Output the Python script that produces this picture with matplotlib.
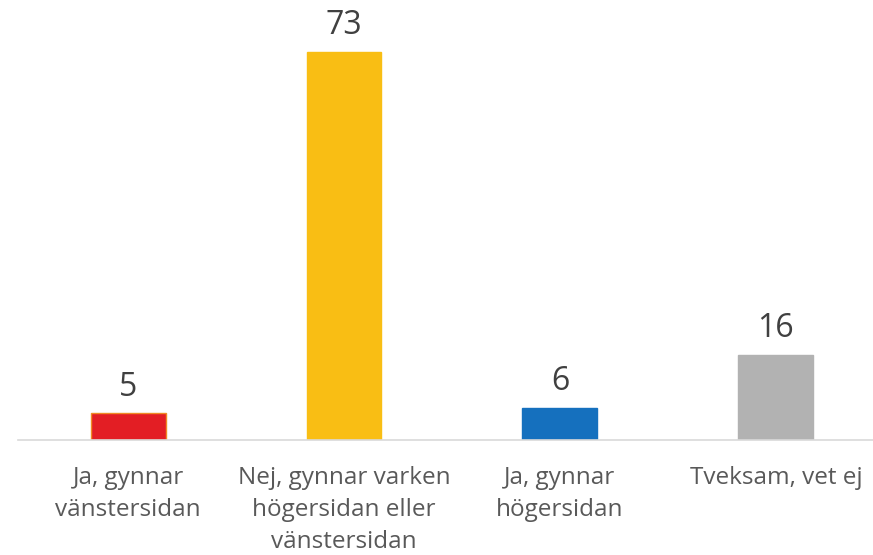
import matplotlib.pyplot as plt

# Chart data
categories = ["Ja, gynnar\nvänstersidan",
              "Nej, gynnar varken\nhögersidan eller\nvänstersidan",
              "Ja, gynnar\nhögersidan",
              "Tveksam, vet ej"]
values = [5, 73, 6, 16]
colors = ["#E31E24", "#F9BE14", "#1570BE", "#B2B2B2"]
edges = ["#F08A24", "#F9BE14", "#1570BE", "#B2B2B2"]

plt.rcParams['font.family'] = ['Open Sans', 'DejaVu Sans']

fig = plt.figure(figsize=(8.73, 5.55), dpi=100)
ax = fig.add_axes([18 / 873, 115 / 555, 1 - 18 / 873, 0.766])

x = range(len(values))
bars = ax.bar(x, values, width=0.347, color=colors, edgecolor=edges, linewidth=1.0, zorder=2)

# value labels above bars
for xi, v in zip(x, values):
    ax.annotate(str(v), (xi, v), xytext=(0, 7), textcoords="offset points",
                ha="center", va="bottom", fontsize=23, color="#404040")

ax.set_xlim(-0.51, 3.45)
ax.set_ylim(0, 80)
ax.set_xticks(list(x))
ax.set_xticklabels(categories, fontsize=17.5, color="#595959", linespacing=1.45)
ax.tick_params(axis="x", length=0, pad=18.5)
ax.set_yticks([])

for s in ["top", "right", "left"]:
    ax.spines[s].set_visible(False)
ax.spines["bottom"].set_color("#D9D9D9")
ax.spines["bottom"].set_linewidth(1.2)

fig.savefig("out.png", dpi=100)
